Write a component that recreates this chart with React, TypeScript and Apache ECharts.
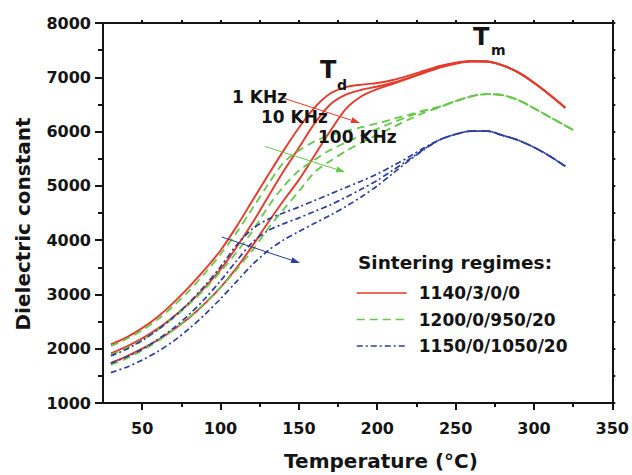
import React, { useEffect, useRef } from 'react';
import * as echarts from 'echarts';

const FONT = '"DejaVu Sans", "Liberation Sans", sans-serif';

// Temperature grid (°C)
const temps = [30, 40, 50, 60, 70, 80, 90, 100, 110, 120, 130, 140, 150, 160, 170, 180, 190, 200, 210, 220, 230, 240, 250, 260, 270, 280, 290, 300, 310, 320, 325];

// 1140/3/0/0 (red, solid)
const red1k = [2080, 2210, 2380, 2590, 2850, 3140, 3460, 3810, 4240, 4710, 5180, 5640, 6070, 6440, 6700, 6820, 6865, 6895, 6950, 7030, 7120, 7210, 7270, 7300, 7290, 7220, 7090, 6900, 6680, 6440, null];
const red10k = [1915, 2040, 2190, 2370, 2590, 2840, 3130, 3460, 3860, 4300, 4780, 5260, 5700, 6150, 6500, 6680, 6770, 6830, 6900, 6990, 7090, 7190, 7260, 7295, 7290, 7220, 7090, 6900, 6680, 6440, null];
const red100k = [1740, 1860, 2000, 2160, 2350, 2570, 2830, 3130, 3480, 3880, 4310, 4720, 5110, 5560, 6010, 6420, 6650, 6780, 6880, 6980, 7080, 7180, 7250, 7290, 7290, 7220, 7090, 6900, 6680, 6440, null];

// 1200/0/950/20 (green, dashed)
const green1k = [2050, 2180, 2340, 2540, 2790, 3070, 3390, 3740, 4130, 4570, 5010, 5420, 5650, 5820, 5930, 6010, 6080, 6150, 6230, 6310, 6390, 6460, 6560, 6650, 6690, 6670, 6580, 6430, 6270, 6110, 6030];
const green10k = [1890, 2010, 2160, 2350, 2570, 2820, 3100, 3420, 3770, 4150, 4600, 4980, 5280, 5480, 5660, 5800, 5930, 6050, 6170, 6280, 6380, 6460, 6560, 6650, 6690, 6670, 6580, 6430, 6270, 6110, 6030];
const green100k = [1700, 1820, 1970, 2140, 2350, 2580, 2840, 3130, 3450, 3800, 4200, 4560, 4900, 5250, 5460, 5640, 5800, 5940, 6080, 6220, 6350, 6450, 6560, 6650, 6690, 6670, 6580, 6430, 6270, 6110, 6030];

// 1150/0/1050/20 (blue, dash-dot)
const blue1k = [1870, 1990, 2150, 2350, 2580, 2850, 3160, 3510, 3900, 4200, 4380, 4500, 4610, 4730, 4850, 4970, 5090, 5220, 5370, 5530, 5700, 5850, 5950, 6010, 6010, 5930, 5840, 5710, 5550, 5360, null];
const blue10k = [1730, 1850, 1990, 2170, 2380, 2630, 2920, 3250, 3610, 3950, 4170, 4300, 4410, 4530, 4650, 4790, 4940, 5100, 5290, 5480, 5680, 5850, 5950, 6010, 6010, 5930, 5840, 5710, 5550, 5360, null];
const blue100k = [1560, 1660, 1790, 1950, 2140, 2370, 2630, 2920, 3230, 3540, 3800, 4000, 4160, 4310, 4460, 4620, 4800, 5000, 5230, 5460, 5670, 5850, 5950, 6010, 6010, 5930, 5840, 5710, 5550, 5360, null];

const regimes = ['1140/3/0/0', '1200/0/950/20', '1150/0/1050/20'];
const xMajor = [50, 100, 150, 200, 250, 300, 350];
const xMinor = [75, 125, 175, 225, 275, 325];

const RED = '#e63a2c';
const GREEN = '#66c84a';
const BLUE = '#2b3e9e';
const INK = '#141414';

function pairs(vals: (number | null)[]) {
  return temps.map((t, i) => [t, vals[i]]);
}

function arrow(x1: number, y1: number, x2: number, y2: number, color: string) {
  const dx = x2 - x1, dy = y2 - y1, L = Math.hypot(dx, dy);
  const ux = dx / L, uy = dy / L;
  const hl = 9, hw = 3;
  const bx = x2 - ux * hl, by = y2 - uy * hl;
  return [
    { type: 'line', shape: { x1, y1, x2: bx, y2: by }, style: { stroke: color, lineWidth: 1 }, z: 10 },
    { type: 'polygon', shape: { points: [[x2, y2], [bx - uy * hw, by + ux * hw], [bx + uy * hw, by - ux * hw]] }, style: { fill: color }, z: 10 },
  ];
}

function txt(x: number, y: number, text: string, size: number, extra: any = {}) {
  return {
    type: 'text', x, y, z: 20,
    style: { text, fontSize: size, fontWeight: 'bold', fontFamily: FONT, fill: INK, verticalAlign: 'middle', align: 'left', ...extra },
  };
}

export default function App() {
  const ref = useRef<HTMLDivElement>(null);
  useEffect(() => {
    if (!ref.current) return;
    const chart = echarts.init(ref.current, null, { renderer: 'svg' });

    const mk = (name: string, vals: (number | null)[], color: string, type: any, width: number) => ({
      type: 'line', name, data: pairs(vals), smooth: 0.3, symbol: 'none', showSymbol: false,
      lineStyle: { color, width, type }, itemStyle: { color, opacity: 0 }, xAxisIndex: 0, yAxisIndex: 0,
    });

    const axisLine = { show: true, lineStyle: { color: INK, width: 2 } };
    const tickStyle = { color: INK, width: 2 };
    const labelStyle = { fontSize: 16, fontWeight: 'bold', fontFamily: FONT, color: INK };

    chart.setOption({
      animation: false,
      grid: { left: 103, right: 19, top: 23, bottom: 72, containLabel: false },
      xAxis: [
        {
          type: 'value', position: 'bottom', min: 25, max: 350,
          axisLine, splitLine: { show: false },
          axisTick: { show: true, customValues: xMajor, length: 7, lineStyle: tickStyle },
          axisLabel: { customValues: xMajor, margin: 17, formatter: (v: number) => String(v), ...labelStyle },
        },
        {
          type: 'value', position: 'bottom', min: 25, max: 350,
          axisLine: { show: false }, splitLine: { show: false },
          axisTick: { show: true, customValues: xMinor, length: 4, lineStyle: tickStyle },
          axisLabel: { show: false },
        },
        {
          type: 'value', position: 'top', min: 25, max: 350,
          axisLine, splitLine: { show: false },
          axisTick: { show: true, customValues: [...xMajor, ...xMinor], length: 3, lineStyle: tickStyle },
          axisLabel: { show: false },
        },
      ],
      yAxis: [
        {
          type: 'value', position: 'left', min: 1000, max: 8000, interval: 1000,
          axisLine, splitLine: { show: false },
          axisTick: { show: true, length: 8, lineStyle: tickStyle },
          minorTick: { show: true, splitNumber: 2, length: 5, lineStyle: tickStyle },
          axisLabel: { margin: 12, formatter: (v: number) => String(v), ...labelStyle },
        },
        {
          type: 'value', position: 'right', min: 1000, max: 8000, interval: 1000,
          axisLine, splitLine: { show: false },
          axisTick: { show: true, length: 3, lineStyle: tickStyle },
          minorTick: { show: true, splitNumber: 2, length: 3, lineStyle: tickStyle },
          axisLabel: { show: false },
        },
      ],
      legend: {
        orient: 'vertical', left: 356, top: 283, padding: 0, itemWidth: 50, itemHeight: 14, itemGap: 6.5,
        data: regimes,
        itemStyle: { opacity: 0 },
        lineStyle: { width: 1.5 },
        textStyle: { fontSize: 17, fontWeight: 'bold', fontFamily: FONT, color: INK, lineHeight: 20, padding: [0, 0, 0, 7] },
      },
      series: [
        mk(regimes[0], red1k, RED, 'solid', 1.9),
        mk(regimes[0], red10k, RED, 'solid', 1.9),
        mk(regimes[0], red100k, RED, 'solid', 1.9),
        mk(regimes[1], green1k, GREEN, [8, 5], 1.8),
        mk(regimes[1], green10k, GREEN, [8, 5], 1.8),
        mk(regimes[1], green100k, GREEN, [8, 5], 1.8),
        mk(regimes[2], blue1k, BLUE, [6, 3, 2, 3], 1.7),
        mk(regimes[2], blue10k, BLUE, [6, 3, 2, 3], 1.7),
        mk(regimes[2], blue100k, BLUE, [6, 3, 2, 3], 1.7),
      ],
      graphic: [
        ...arrow(283, 98, 360, 123, RED),
        ...arrow(265, 146.5, 345, 172, GREEN),
        ...arrow(221.7, 237, 300, 263, BLUE),
        txt(232, 97, '1 KHz', 17),
        txt(261, 117, '10 KHz', 17),
        txt(318, 137, '100 KHz', 17),
        txt(320, 70, 'T', 24),
        txt(337, 85, 'd', 14),
        txt(473, 37, 'T', 24),
        txt(491, 50, 'm', 14),
        txt(358, 262, 'Sintering regimes:', 18.5),
        txt(381, 461, 'Temperature (°C)', 20, { align: 'center' }),
        {
          type: 'text', x: 23, y: 224, rotation: Math.PI / 2, z: 20,
          style: { text: 'Dielectric constant', fontSize: 20, fontWeight: 'bold', fontFamily: FONT, fill: INK, align: 'center', verticalAlign: 'middle' },
        },
      ],
    });
    return () => chart.dispose();
  }, []);
  return <div ref={ref} style={{ width: 632, height: 475, position: 'absolute', left: 0, top: 0, background: '#fff' }} />;
}
